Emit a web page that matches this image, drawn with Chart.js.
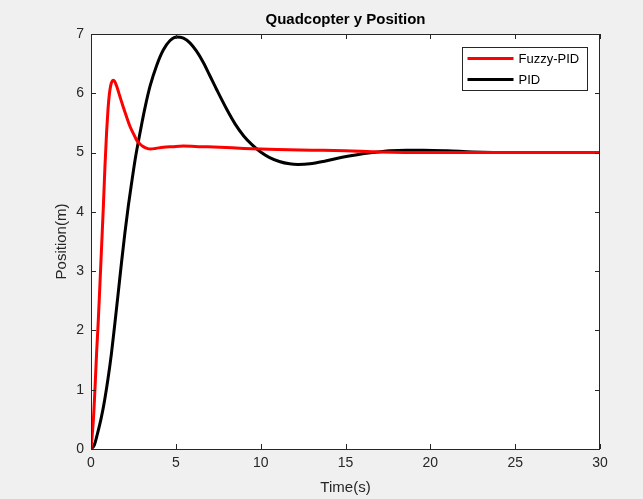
<!DOCTYPE html>
<html>
<head>
<meta charset="utf-8">
<script src="https://cdn.jsdelivr.net/npm/chart.js@4.4.1/dist/chart.umd.min.js"></script>
<style>
  html, body { margin: 0; padding: 0; background: #f0f0f0; }
  #wrap { width: 643px; height: 499px; }
</style>
</head>
<body>
<div id="wrap"><canvas id="chart" width="643" height="499"></canvas></div>
<script>
// values
const fuzzyTime = [0, 0.14, 0.24, 0.33, 0.43, 0.53, 0.63, 0.73, 0.82, 0.92, 1.0, 1.08, 1.16, 1.24, 1.31, 1.4, 1.5, 1.7, 1.9, 2.1, 2.3, 2.5, 2.69, 2.9, 3.08, 3.3, 3.5, 3.8, 4.26, 4.8, 5.44, 6.5, 7.6, 9, 11, 13, 15, 17, 20, 25, 30];
const fuzzyPos = [0, 0.49, 1.05, 1.62, 2.17, 2.8, 3.45, 4.1, 4.75, 5.35, 5.72, 5.98, 6.13, 6.2, 6.22, 6.2, 6.13, 5.95, 5.77, 5.6, 5.44, 5.32, 5.21, 5.14, 5.1, 5.07, 5.06, 5.07, 5.09, 5.1, 5.11, 5.1, 5.09, 5.07, 5.05, 5.04, 5.03, 5.01, 5.0, 5.0, 5.0];

const pidTime = [0, 0.2, 0.4, 0.6, 0.8, 1.0, 1.2, 1.4, 1.6, 1.8, 2.0, 2.2, 2.4, 2.6, 2.8, 3.0, 3.2, 3.48, 3.87, 4.26, 4.66, 5.05, 5.45, 5.83, 6.22, 6.62, 7.0, 7.41, 8.0, 8.5, 9.0, 9.5, 10.0, 10.5, 11.1, 11.7, 12.2, 12.9, 13.7, 14.6, 15.6, 16.6, 17.6, 18.6, 19.6, 21, 22.5, 25, 30];
const pidPos = [0, 0.07, 0.28, 0.52, 0.82, 1.18, 1.6, 2.1, 2.62, 3.15, 3.65, 4.1, 4.5, 4.88, 5.2, 5.5, 5.78, 6.12, 6.47, 6.73, 6.89, 6.95, 6.93, 6.85, 6.71, 6.52, 6.3, 6.06, 5.73, 5.48, 5.28, 5.13, 5.01, 4.92, 4.85, 4.81, 4.8, 4.81, 4.85, 4.91, 4.96, 5.0, 5.03, 5.04, 5.04, 5.03, 5.01, 5.0, 5.0];

const xTicks = [0, 5, 10, 15, 20, 25, 30];
const yTicks = [0, 1, 2, 3, 4, 5, 6, 7];

const seriesNames = ["Fuzzy-PID", "PID"];
const seriesColors = ["#ff0000", "#000000"];
const titleText = "Quadcopter y Position";

const axisColor = "#262626";
const fontFamily = "'Liberation Sans', Arial, Helvetica, sans-serif";

function toPoints(xs, ys) {
  return xs.map((x, i) => ({ x: x, y: ys[i] }));
}

// white plot box, inner ticks on all four sides, title over the axes, legend box
const matlabAxes = {
  id: "matlabAxes",
  beforeDatasetsDraw(chart) {
    const { ctx, chartArea: a } = chart;
    ctx.save();
    ctx.fillStyle = "#ffffff";
    ctx.fillRect(a.left, a.top, a.right - a.left, a.bottom - a.top);
    ctx.restore();
  },
  afterDatasetsDraw(chart) {
    const { ctx, chartArea: a, scales } = chart;
    ctx.save();
    ctx.strokeStyle = axisColor;
    ctx.lineWidth = 1;
    ctx.strokeRect(a.left + 0.5, a.top + 0.5, a.right - a.left - 1, a.bottom - a.top);
    const tl = 5;
    ctx.beginPath();
    xTicks.forEach(v => {
      const px = Math.round(scales.x.getPixelForValue(v)) + 0.5;
      ctx.moveTo(px, a.bottom); ctx.lineTo(px, a.bottom - tl);
      ctx.moveTo(px, a.top); ctx.lineTo(px, a.top + tl);
    });
    yTicks.forEach(v => {
      const py = Math.round(scales.y.getPixelForValue(v)) + 0.5;
      ctx.moveTo(a.left, py); ctx.lineTo(a.left + tl, py);
      ctx.moveTo(a.right, py); ctx.lineTo(a.right - tl, py);
    });
    ctx.stroke();

    // title centred over the axes box
    ctx.fillStyle = "#000000";
    ctx.font = "bold 15px " + fontFamily;
    ctx.textAlign = "center";
    ctx.textBaseline = "middle";
    ctx.fillText(titleText, (a.left + a.right) / 2, 20);

    // legend
    const lx = 462.5, ly = 47.5, lw = 125, lh = 43;
    ctx.fillStyle = "#ffffff";
    ctx.fillRect(lx, ly, lw, lh);
    ctx.strokeRect(lx, ly, lw, lh);
    ctx.font = "13px " + fontFamily;
    ctx.textAlign = "left";
    seriesNames.forEach((name, i) => {
      const y = ly + 11 + i * 21;
      ctx.strokeStyle = seriesColors[i];
      ctx.lineWidth = 3;
      ctx.beginPath();
      ctx.moveTo(lx + 5, y); ctx.lineTo(lx + 51, y);
      ctx.stroke();
      ctx.fillStyle = "#000000";
      ctx.fillText(name, lx + 56, y + 1);
    });
    ctx.restore();
  }
};

new Chart(document.getElementById("chart"), {
  type: "line",
  data: {
    datasets: [
      {
        label: seriesNames[0],
        data: toPoints(fuzzyTime, fuzzyPos),
        borderColor: seriesColors[0],
        borderWidth: 3,
        pointRadius: 0,
        cubicInterpolationMode: "monotone"
      },
      {
        label: seriesNames[1],
        data: toPoints(pidTime, pidPos),
        borderColor: seriesColors[1],
        borderWidth: 3,
        pointRadius: 0,
        cubicInterpolationMode: "monotone"
      }
    ]
  },
  plugins: [matlabAxes],
  options: {
    responsive: false,
    animation: false,
    layout: { padding: { left: 0, right: 43, top: 34, bottom: 0 } },
    plugins: {
      legend: { display: false },
      tooltip: { enabled: false },
      title: { display: false }
    },
    scales: {
      x: {
        type: "linear",
        min: 0,
        max: 30,
        afterBuildTicks: s => { s.ticks = xTicks.map(v => ({ value: v })); },
        afterFit: s => { s.height = 50; },
        grid: { display: false, drawTicks: false },
        border: { display: false },
        ticks: { color: axisColor, font: { family: fontFamily, size: 14 }, padding: 6, maxRotation: 0 },
        title: {
          display: true,
          text: "Time(s)",
          color: axisColor,
          font: { family: fontFamily, size: 15 },
          padding: { top: 0, bottom: 2 }
        }
      },
      y: {
        type: "linear",
        min: 0,
        max: 7,
        afterBuildTicks: s => { s.ticks = yTicks.map(v => ({ value: v })); },
        afterFit: s => { s.width = 91; },
        grid: { display: false, drawTicks: false },
        border: { display: false },
        ticks: { color: axisColor, font: { family: fontFamily, size: 14 }, padding: 7 },
        title: {
          display: true,
          text: "Position(m)",
          color: axisColor,
          font: { family: fontFamily, size: 15 },
          padding: { top: 53, bottom: 0 }
        }
      }
    }
  }
});
</script>
</body>
</html>
